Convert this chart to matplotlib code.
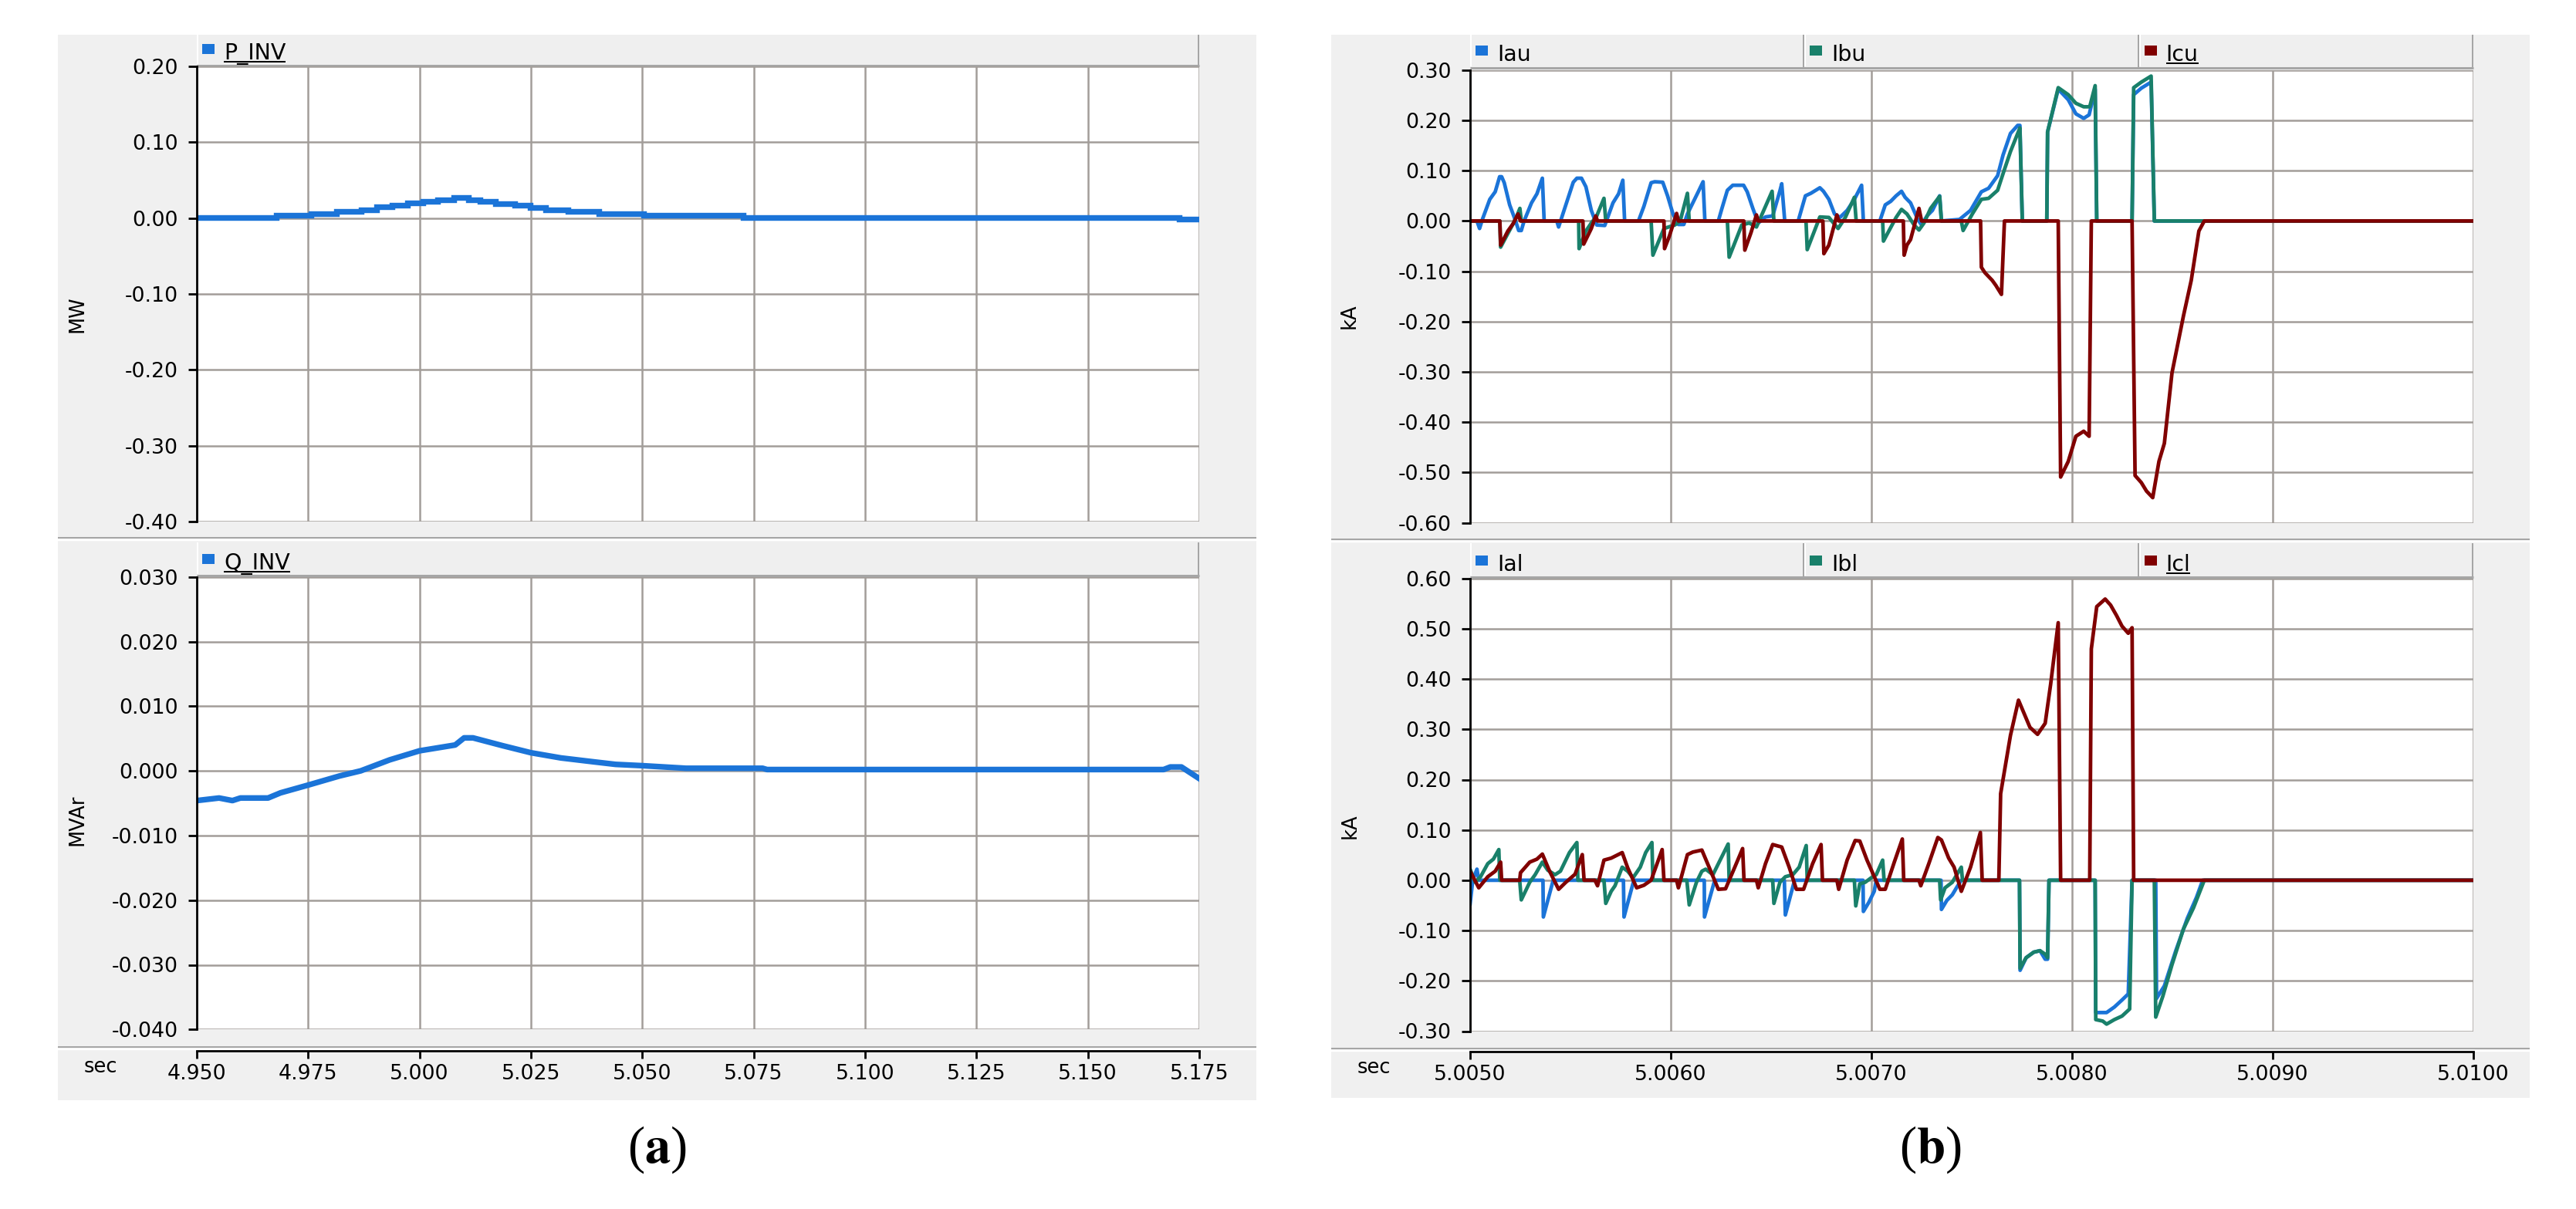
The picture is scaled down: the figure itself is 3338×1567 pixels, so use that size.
import numpy as np
import matplotlib
matplotlib.use("Agg")
import matplotlib.pyplot as plt
from matplotlib.patches import Rectangle
from matplotlib.lines import Line2D
from matplotlib.transforms import Affine2D
from matplotlib.ticker import FormatStrFormatter, FixedLocator

plt.rcParams['font.family'] = ['DejaVu Sans']
plt.rcParams['mathtext.fontset'] = 'stix'

# ---------------- data : panel (a) ----------------
p_names = ["P_INV"]
p_t = [4.9500, 4.9679, 4.9757, 4.9814, 4.9869, 4.9903, 4.9938, 4.9972, 5.0007, 5.0041,
       5.0076, 5.0110, 5.0136, 5.0171, 5.0214, 5.0248, 5.0283, 5.0334, 5.0403, 5.0503,
       5.0727, 5.1705, 5.1754]
p_mw = [0.0005, 0.0033, 0.0057, 0.0090, 0.0110, 0.0146, 0.0170, 0.0197, 0.0217, 0.0244,
        0.0268, 0.0240, 0.0217, 0.0190, 0.0170, 0.0137, 0.0110, 0.0085, 0.0057, 0.0033,
        0.0008, -0.0018, -0.0018]

q_names = ["Q_INV"]
q_t = [4.950, 4.955, 4.958, 4.9598, 4.966, 4.9688, 4.975, 4.982, 4.9868, 4.9933, 5.000,
       5.008, 5.010, 5.012, 5.0186, 5.025, 5.0317, 5.039, 5.044, 5.050, 5.0598, 5.077,
       5.078, 5.167, 5.1685, 5.171, 5.175]
q_mvar = [-0.0046, -0.0042, -0.0046, -0.0042, -0.0042, -0.0034, -0.0022, -0.0008, 0.0, 0.0017,
          0.0031, 0.0040, 0.0051, 0.0051, 0.0039, 0.0028, 0.0020, 0.0014, 0.0010, 0.0008,
          0.0004, 0.0004, 0.0002, 0.0002, 0.0006, 0.0006, -0.0012]

a_xticks = [4.950, 4.975, 5.000, 5.025, 5.050, 5.075, 5.100, 5.125, 5.150, 5.175]
p_yticks = [-0.40, -0.30, -0.20, -0.10, 0.00, 0.10, 0.20]
q_yticks = [-0.040, -0.030, -0.020, -0.010, 0.000, 0.010, 0.020, 0.030]

# ---------------- data : panel (b) ----------------
T0 = 5.005  # s ; times below in microseconds after T0
u_names = ["Iau", "Ibu", "Icu"]
l_names = ["Ial", "Ibl", "Icl"]

iau_us = [0, 34, 47, 61, 98, 125, 147, 157, 170, 197, 224, 242, 255, 269, 306, 333, 360, 369,
          432, 441, 468, 514, 532, 555, 577, 604, 631, 671, 712, 740, 761, 770,
          839, 866, 902, 920, 960, 984, 1011, 1038, 1065, 1083, 1110, 1137, 1161, 1170,
          1237, 1255, 1282, 1309, 1363, 1381, 1409, 1436, 1472, 1508, 1544, 1553, 1568,
          1635, 1671, 1698, 1743, 1761, 1788, 1816, 1843, 1879, 1915, 1951, 1960,
          2042, 2069, 2096, 2123, 2150, 2168, 2195, 2231, 2250, 2277, 2304, 2340, 2349,
          2439, 2494, 2548, 2584, 2629, 2656, 2693, 2729, 2740, 2752,
          2874, 2878, 2931, 2981, 3019, 3058, 3085, 3115, 3123,
          3299, 3307, 3345, 3394, 3410, 5000]
iau_ka = [0, 0, -0.015, 0.003, 0.043, 0.058, 0.088, 0.088, 0.076, 0.032, 0.003, -0.019, -0.019, 0.0, 0.036, 0.054, 0.085, 0.0,
          0.0, -0.012, 0.021, 0.077, 0.085, 0.085, 0.068, 0.021, -0.008, -0.009, 0.036, 0.054, 0.081, 0.0,
          0.0, 0.029, 0.076, 0.078, 0.077, 0.050, 0.014, -0.007, -0.007, 0.014, 0.036, 0.058, 0.078, 0.0,
          0.0, 0.025, 0.061, 0.071, 0.071, 0.058, 0.025, -0.004, 0.008, 0.010, 0.060, 0.074, 0.0,
          0.0, 0.050, 0.055, 0.066, 0.059, 0.043, 0.014, 0.007, 0.021, 0.043, 0.071, 0.0,
          0.0, 0.032, 0.039, 0.050, 0.059, 0.047, 0.036, 0.003, -0.008, 0.010, 0.021, 0.050, 0.0,
          0.003, 0.021, 0.058, 0.065, 0.090, 0.131, 0.174, 0.190, 0.190, 0.0,
          0.0, 0.177, 0.262, 0.241, 0.213, 0.204, 0.211, 0.262, 0.0,
          0.0, 0.251, 0.264, 0.276, 0.0, 0.0]

ibu_us = [0, 148, 152, 188, 215, 233, 248, 255,
          541, 543, 577, 604, 631, 667, 676,
          902, 911, 966, 1020, 1047, 1083, 1092,
          1282, 1291, 1354, 1391, 1427, 1505, 1514,
          1674, 1680, 1743, 1788, 1834, 1870, 1915, 1924,
          2056, 2060, 2123, 2150, 2177, 2213, 2237, 2262, 2295, 2340, 2349,
          2448, 2457, 2503, 2548, 2584, 2629, 2656, 2693, 2729, 2740, 2752,
          2874, 2878, 2931, 2981, 3019, 3058, 3088, 3115, 3123,
          3299, 3307, 3345, 3394, 3410, 5000]
ibu_ka = [0, 0, -0.052, -0.025, -0.005, 0.010, 0.025, 0.0,
          0.0, -0.055, -0.020, -0.004, 0.010, 0.045, 0.0,
          0.0, -0.068, -0.015, -0.008, 0.0, 0.055, 0.0,
          0.0, -0.072, -0.008, -0.004, -0.012, 0.059, 0.0,
          0.0, -0.057, 0.008, 0.007, -0.015, 0.007, 0.047, 0.0,
          0.0, -0.040, 0.007, 0.023, 0.014, -0.008, -0.018, -0.004, 0.025, 0.049, 0.0,
          0.0, -0.019, 0.014, 0.043, 0.045, 0.061, 0.094, 0.138, 0.174, 0.185, 0.0,
          0.0, 0.177, 0.265, 0.251, 0.234, 0.227, 0.227, 0.269, 0.0,
          0.0, 0.265, 0.276, 0.288, 0.0, 0.0]

icu_us = [0, 148, 152, 188, 215, 239, 251,
          562, 566, 604, 626, 635,
          966, 969, 993, 1029, 1038,
          1364, 1369, 1400, 1427, 1436,
          1758, 1763, 1788, 1828, 1837,
          2159, 2163, 2177, 2195, 2237, 2250,
          2544, 2548, 2566, 2602, 2620, 2648, 2663,
          2931, 2943, 2981, 3019, 3058, 3085, 3096,
          3299, 3314, 3345, 3371, 3402, 3433, 3460, 3498, 3555, 3594, 3632, 3659, 5000]
icu_ka = [0, 0, -0.048, -0.020, -0.005, 0.014, 0.0,
          0.0, -0.046, -0.015, 0.010, 0.0,
          0.0, -0.055, -0.030, 0.015, 0.0,
          0.0, -0.058, -0.023, 0.012, 0.0,
          0.0, -0.065, -0.048, 0.012, 0.0,
          0.0, -0.068, -0.048, -0.037, 0.025, 0.0,
          0.0, -0.092, -0.103, -0.118, -0.128, -0.146, 0.0,
          0.0, -0.509, -0.478, -0.428, -0.418, -0.428, 0.0,
          0.0, -0.506, -0.520, -0.537, -0.550, -0.478, -0.442, -0.302, -0.189, -0.118, -0.020, 0.0, 0.0]

ial_us = [0, 13, 34, 43, 363, 365, 414, 764, 767, 816, 1167, 1168, 1219, 1566, 1571, 1617,
          1958, 1960, 1987, 2014, 2024, 2347, 2349, 2376, 2403, 2430, 2448,
          2738, 2741, 2771, 2809, 2840, 2866, 2878, 2885,
          3115, 3118, 3172, 3211, 3249, 3280, 3299,
          3417, 3421, 3460, 3517, 3574, 3620, 3651, 5000]
ial_ka = [-0.047, 0.0, 0.022, 0.0, 0.0, -0.073, 0.0, 0.0, -0.073, 0.0, 0.0, -0.073, 0.0, 0.0, -0.069, 0.0,
          0.0, -0.062, -0.044, -0.022, 0.0, 0.0, -0.058, -0.040, -0.029, -0.011, 0.0,
          0.0, -0.179, -0.154, -0.143, -0.140, -0.157, -0.157, 0.0,
          0.0, -0.263, -0.263, -0.252, -0.238, -0.226, 0.0,
          0.0, -0.235, -0.210, -0.140, -0.076, -0.034, 0.0, 0.0]

ibl_us = [0, 25, 52, 88, 116, 143, 148,
          247, 255, 297, 324, 360, 387, 423, 450, 495, 532, 537,
          667, 676, 703, 722, 758, 785, 812, 848, 875, 906, 911,
          1080, 1092, 1128, 1155, 1174, 1210, 1246, 1286, 1291,
          1508, 1514, 1544, 1571, 1608, 1640, 1675, 1680,
          1915, 1922, 1942, 1969, 1996, 2024, 2056, 2063,
          2340, 2345, 2367, 2403, 2448, 2454,
          2738, 2741, 2771, 2809, 2840, 2866, 2878, 2885,
          3115, 3118, 3153, 3172, 3211, 3249, 3287, 3299,
          3410, 3417, 3452, 3498, 3555, 3605, 3659, 5000]
ibl_ka = [0.022, -0.004, 0.007, 0.033, 0.042, 0.061, 0.0,
          0.0, -0.039, -0.004, 0.011, 0.036, 0.020, 0.011, 0.018, 0.055, 0.075, 0.0,
          0.0, -0.046, -0.022, -0.011, 0.026, 0.018, 0.005, 0.026, 0.055, 0.075, 0.0,
          0.0, -0.049, -0.004, 0.018, 0.022, 0.011, 0.040, 0.072, 0.0,
          0.0, -0.046, -0.004, 0.007, 0.011, 0.026, 0.069, 0.0,
          0.0, -0.051, -0.007, -0.004, 0.004, 0.011, 0.040, 0.0,
          0.0, -0.039, -0.015, -0.004, 0.026, 0.0,
          0.0, -0.175, -0.154, -0.143, -0.140, -0.147, -0.154, 0.0,
          0.0, -0.277, -0.280, -0.286, -0.277, -0.270, -0.256, 0.0,
          0.0, -0.272, -0.231, -0.168, -0.097, -0.055, 0.0, 0.0]

icl_us = [0, 43, 88, 125, 152, 157,
          247, 251, 297, 333, 360, 396, 441, 477, 523, 559, 568,
          622, 635, 667, 703, 758, 785, 830, 866, 902, 957, 966,
          1029, 1038, 1083, 1110, 1155, 1192, 1237, 1273, 1318, 1358, 1365,
          1427, 1436, 1472, 1508, 1553, 1590, 1626, 1662, 1707, 1749, 1756,
          1828, 1837, 1879, 1919, 1942, 1978, 2042, 2069, 2114, 2154, 2161,
          2237, 2246, 2286, 2331, 2349, 2385, 2412, 2448, 2494, 2543, 2552,
          2635, 2644, 2693, 2733, 2790, 2828, 2866, 2893, 2931, 2943,
          3088, 3096, 3123, 3165, 3192, 3222, 3249, 3280, 3299, 3307, 5000]
icl_ka = [0.018, -0.015, 0.007, 0.018, 0.036, 0.0,
          0.0, 0.015, 0.036, 0.042, 0.052, 0.018, -0.018, -0.004, 0.012, 0.051, 0.0,
          0.0, -0.011, 0.040, 0.044, 0.055, 0.025, -0.015, -0.010, 0.0, 0.061, 0.0,
          0.0, -0.015, 0.051, 0.056, 0.060, 0.025, -0.018, -0.017, 0.025, 0.063, 0.0,
          0.0, -0.015, 0.033, 0.071, 0.066, 0.026, -0.018, -0.018, 0.033, 0.071, 0.0,
          0.0, -0.018, 0.040, 0.079, 0.078, 0.040, -0.018, -0.018, 0.036, 0.082, 0.0,
          0.0, -0.011, 0.033, 0.085, 0.080, 0.044, 0.026, -0.022, 0.026, 0.095, 0.0,
          0.0, 0.172, 0.288, 0.358, 0.304, 0.290, 0.312, 0.389, 0.512, 0.0,
          0.0, 0.460, 0.544, 0.559, 0.547, 0.526, 0.505, 0.491, 0.502, 0.0, 0.0]

b_xticks = [5.0050, 5.0060, 5.0070, 5.0080, 5.0090, 5.0100]
u_yticks = [-0.60, -0.50, -0.40, -0.30, -0.20, -0.10, 0.00, 0.10, 0.20, 0.30]
l_yticks = [-0.30, -0.20, -0.10, 0.00, 0.10, 0.20, 0.30, 0.40, 0.50, 0.60]

# ---------------- styling ----------------
BLUE = '#1b74d8'
TEAL = '#19806a'
DRED = '#800000'
GRID = '#a29d99'
PANEL = '#f0f0f0'
EDGE = '#a6a6a6'
TICK_FS = 19.3

W, H = 3338, 1567
fig = plt.figure(figsize=(W / 100, H / 100), dpi=100)
fig.patch.set_facecolor('white')
PX = Affine2D().scale(1.0 / W, -1.0 / H).translate(0, 1) + fig.transFigure


def rect(x0, y0, x1, y1, fc, z=-5):
    fig.add_artist(Rectangle((x0, y0), x1 - x0, y1 - y0, transform=PX,
                             facecolor=fc, edgecolor='none', linewidth=0, zorder=z))


def seg(xs, ys, color, lw_px, z=-4):
    fig.add_artist(Line2D(xs, ys, transform=PX, color=color, linewidth=lw_px * 0.72,
                          zorder=z, solid_capstyle='butt'))


def make_axes(l, t, r, b):
    return fig.add_axes([l / W, 1 - b / H, (r - l) / W, (b - t) / H])


def style_axes(ax, xlim, ylim, xticks, yticks, yfmt, xfmt, bottom, outward):
    ax.set_facecolor('white')
    ax.set_xlim(*xlim)
    ax.set_ylim(*ylim)
    ax.xaxis.set_major_locator(FixedLocator(xticks))
    ax.yaxis.set_major_locator(FixedLocator(yticks))
    ax.yaxis.set_major_formatter(FormatStrFormatter(yfmt))
    ax.xaxis.set_major_formatter(FormatStrFormatter(xfmt))
    for s in ('top', 'right'):
        ax.spines[s].set_visible(False)
    ax.spines['left'].set_linewidth(2.0)
    ax.spines['left'].set_color('black')
    ax.grid(True, color=GRID, linewidth=1.8)
    ax.set_axisbelow(True)
    ax.tick_params(axis='y', direction='out', length=8, width=2, pad=9.5,
                   labelsize=TICK_FS, colors='black')
    if bottom:
        ax.spines['bottom'].set_position(('outward', outward))
        ax.spines['bottom'].set_linewidth(2.0)
        ax.spines['bottom'].set_color('black')
        ax.tick_params(axis='x', direction='out', length=7.5, width=2, pad=5,
                       labelsize=TICK_FS, colors='black')
    else:
        ax.spines['bottom'].set_visible(False)
        ax.tick_params(axis='x', length=0, labelbottom=False)


renderer = fig.canvas.get_renderer()


def legend_bar(x0, x1, y0, y1, names, colors, baseline):
    rect(x0, y0, x1, y1, '#efefef', z=-3)
    seg([x0, x1], [y1 - 1.5, y1 - 1.5], EDGE, 3, z=-2)
    n = len(names)
    cw = (x1 - x0) / n
    for i, (name, col) in enumerate(zip(names, colors)):
        cx = x0 + i * cw
        seg([cx + 1, cx + 1], [y0, y1 - 3], 'white', 2, z=-2)
        seg([cx + cw - 1, cx + cw - 1], [y0, y1], EDGE, 2, z=-2)
        rect(cx + 7, baseline - 20, cx + 23, baseline - 7, col, z=2)
        txt = fig.text(cx + 35, baseline, name, transform=PX, fontsize=20.5,
                       ha='left', va='baseline', color='black', zorder=3)
        if i == n - 1:
            bb = txt.get_window_extent(renderer)
            seg([bb.x0, bb.x1], [baseline + 3, baseline + 3], 'black', 2, z=3)


# backgrounds
rect(75, 45, 1628, 1426, PANEL)
rect(1725, 45, 3278, 1423, PANEL)
# panel separators
for (xa, xb, ys) in [(75, 1628, (697, 1357)), (1725, 3278, (699, 1359))]:
    for y in ys:
        seg([xa, xb], [y, y], EDGE, 2)
        seg([xa, xb], [y + 2.5, y + 2.5], 'white', 2.5)

# ---------------- panel (a) ----------------
ax_p = make_axes(255, 86, 1554, 676)
ax_p.plot(p_t, p_mw, color=BLUE, lw=5.3, drawstyle='steps-post', solid_joinstyle='miter')
style_axes(ax_p, (4.95, 5.175), (-0.40, 0.20), a_xticks, p_yticks, '%.2f', '%.3f', False, 0)

ax_q = make_axes(255, 747.7, 1554, 1334.3)
ax_q.plot(q_t, q_mvar, color=BLUE, lw=5.3)
style_axes(ax_q, (4.95, 5.175), (-0.040, 0.030), a_xticks, q_yticks, '%.3f', '%.3f', True, 19.7)

legend_bar(255, 1554, 45, 86, p_names, [BLUE], 77)
legend_bar(255, 1554, 703, 747, q_names, [BLUE], 738)

fig.text(100, 407, 'MW', transform=PX, rotation=90, fontsize=18.5, ha='center', va='center')
fig.text(100, 1063, 'MVAr', transform=PX, rotation=90, fontsize=18.5, ha='center', va='center')
fig.text(130, 1383, 'sec', transform=PX, fontsize=18.5, ha='center', va='center')

# ---------------- panel (b) ----------------
def tsec(us):
    return T0 + np.asarray(us, dtype=float) * 1e-6

ax_u = make_axes(1905, 90.8, 3205, 677.6)
for us, ka, col in [(iau_us, iau_ka, BLUE), (ibu_us, ibu_ka, TEAL), (icu_us, icu_ka, DRED)]:
    ax_u.plot(tsec(us), ka, color=col, lw=3.4)
style_axes(ax_u, (5.005, 5.010), (-0.60, 0.30), b_xticks, u_yticks, '%.2f', '%.4f', False, 0)

ax_l = make_axes(1905, 749.7, 3205, 1336.5)
for us, ka, col in [(ial_us, ial_ka, BLUE), (ibl_us, ibl_ka, TEAL), (icl_us, icl_ka, DRED)]:
    ax_l.plot(tsec(us), ka, color=col, lw=3.4)
style_axes(ax_l, (5.005, 5.010), (-0.30, 0.60), b_xticks, l_yticks, '%.2f', '%.4f', True, 19.1)

legend_bar(1905, 3205, 45, 89, u_names, [BLUE, TEAL, DRED], 79)
legend_bar(1905, 3205, 704, 749, l_names, [BLUE, TEAL, DRED], 740)

fig.text(1749, 410, 'kA', transform=PX, rotation=90, fontsize=18.5, ha='center', va='center')
fig.text(1750, 1071, 'kA', transform=PX, rotation=90, fontsize=18.5, ha='center', va='center')
fig.text(1780, 1384, 'sec', transform=PX, fontsize=18.5, ha='center', va='center')

# captions
fig.text(851, 1490, r'($\mathbf{a}$)', transform=PX, fontsize=48, family='Liberation Serif',
         ha='center', va='center')
fig.text(2501, 1490, r'($\mathbf{b}$)', transform=PX, fontsize=48, family='Liberation Serif',
         ha='center', va='center')

fig.savefig('out.png', dpi=100, facecolor='white')
